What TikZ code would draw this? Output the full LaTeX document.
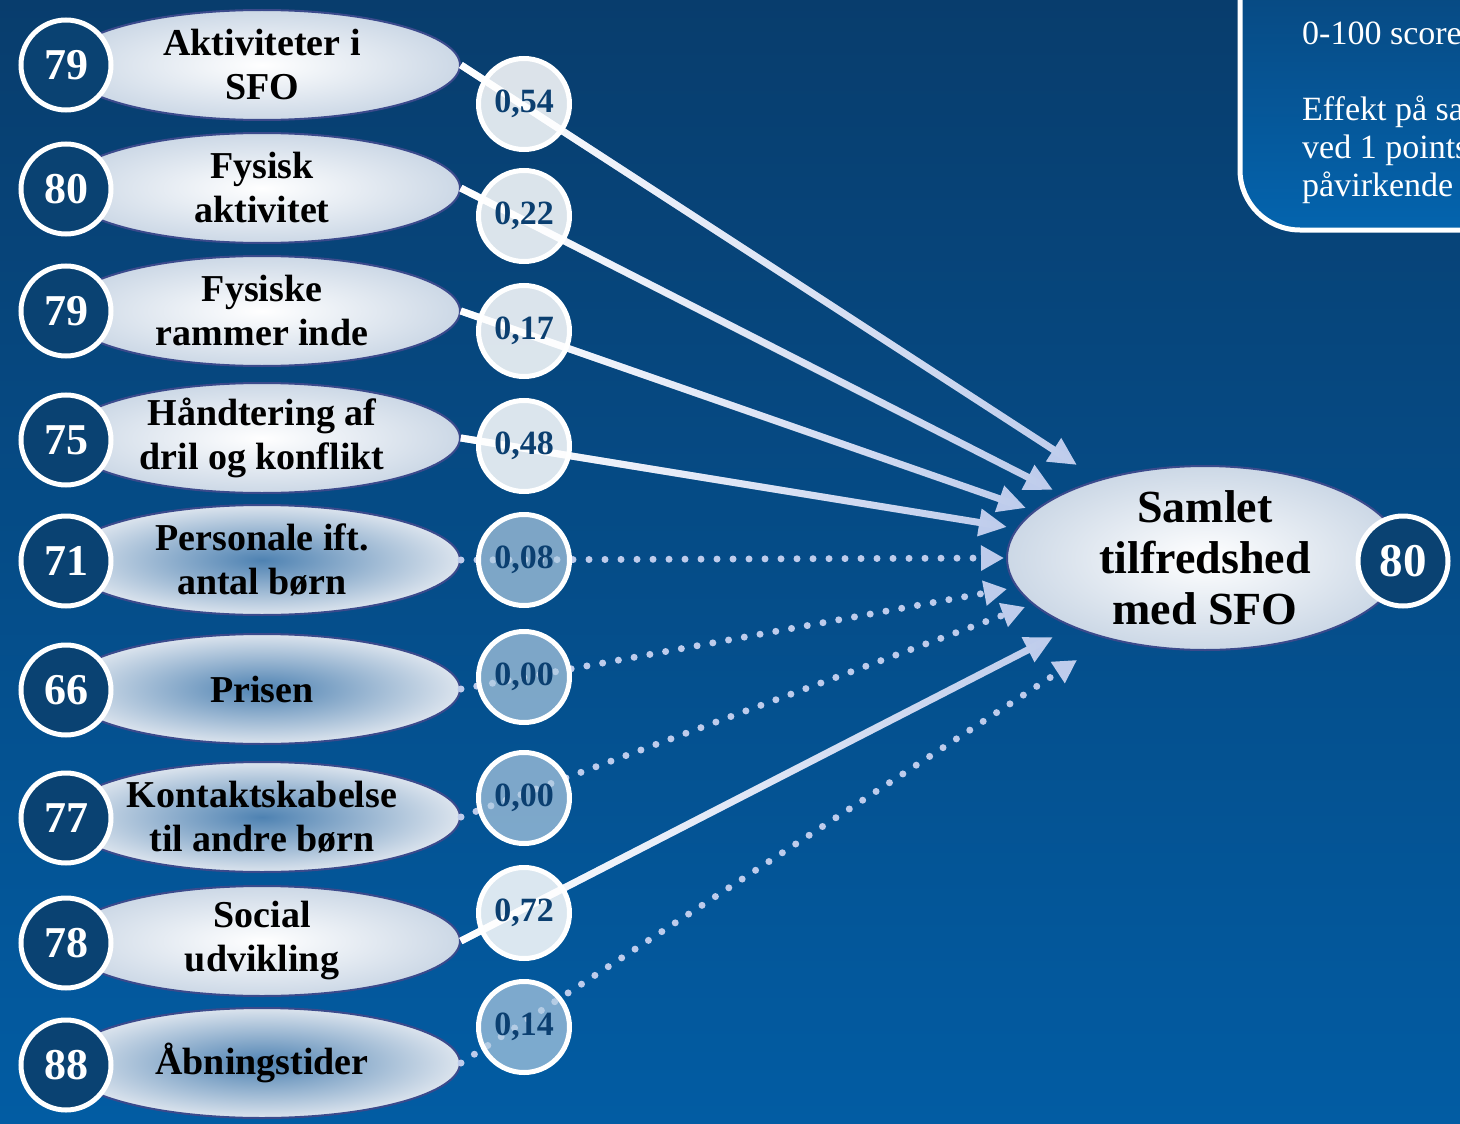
\documentclass[tikz,border=0pt]{standalone}
\usepackage{fontspec}
\setmainfont{Liberation Serif}
\usetikzlibrary{shapes, arrows.meta, fadings}
\definecolor{bgtop}{RGB}{8,61,109}
\definecolor{bgbot}{RGB}{2,92,163}
\definecolor{scorebg}{RGB}{10,66,114}
\definecolor{rim}{RGB}{59,74,140}
\definecolor{pale}{RGB}{204,216,230}
\definecolor{deep}{RGB}{78,130,178}
\definecolor{coefmuted}{RGB}{177,204,226}
\definecolor{coeftext}{RGB}{11,63,112}
\definecolor{arrowcol}{RGB}{190,204,236}
\definecolor{boxtop}{RGB}{8,66,118}
\definecolor{boxbot}{RGB}{4,100,174}

\begin{document}
\begin{tikzpicture}[x=1pt, y=-1pt,
		score/.style={circle, draw=white, line width=5pt, fill=scorebg, text=white, minimum size=90pt, inner sep=0pt, font=\bfseries\fontsize{44}{44}\selectfont},
		driver/.style={ellipse, draw=rim, line width=2pt, inner color=white, outer color=pale, minimum width=396pt, minimum height=110pt, inner xsep=-30pt, inner ysep=-8pt, align=center, font=\bfseries\fontsize{38}{44}\selectfont},
		weak/.style={driver, inner color=deep, outer color=pale!70!white},
		coef/.style={circle, draw=white, line width=5pt, fill=white, fill opacity=0.86, text opacity=1, text=coeftext, minimum size=91pt, inner sep=0pt, font=\bfseries\fontsize{34}{34}\selectfont},
		weakcoef/.style={coef, fill=coefmuted, fill opacity=0.7},
		link/.style={arrowcol, line width=7pt, -{Triangle[length=28pt, width=26pt]}, postaction={draw=white, -, path fading=east}},
		weaklink/.style={arrowcol, line width=7pt, line cap=round, dash pattern=on 0pt off 16pt, -{Triangle[length=23pt, width=24pt]}}]
		\useasboundingbox (0,0) rectangle (1460,1124);
		\clip (0,0) rectangle (1460,1124);
		\fill [top color=bgtop, bottom color=bgbot] (0,0) rectangle (1460,1124);
		\draw [white, line width=5pt, rounded corners=60pt, top color=boxtop, bottom color=boxbot] (1240,-80) rectangle (1540,230);
		\node (info) [anchor=north west, inner sep=0pt, align=left, text=white, font=\fontsize{34}{38}\selectfont] at (1302,22) {0-100 score\\[38pt]Effekt på samlet\\ved 1 points\\påvirkende};

		\node (akt)   [driver] at (262,65)   {Aktiviteter i\\SFO};
		\node (fys)   [driver] at (262,188)  {Fysisk\\aktivitet};
		\node (ramme) [driver] at (262,311)  {Fysiske\\rammer inde};
		\node (konf)  [driver] at (262,438)  {Håndtering af\\dril og konflikt};
		\node (pers)  [weak]   at (262,560)  {Personale ift.\\antal børn};
		\node (pris)  [weak]   at (262,689)  {Prisen};
		\node (kont)  [weak]   at (262,817)  {Kontaktskabelse\\til andre børn};
		\node (soc)   [driver] at (262,941)  {Social\\udvikling};
		\node (aabn)  [weak]   at (262,1063) {Åbningstider};

		\node (s-akt)   [score] at (66,65)   {79};
		\node (s-fys)   [score] at (66,189)  {80};
		\node (s-ramme) [score] at (66,311)  {79};
		\node (s-konf)  [score] at (66,440)  {75};
		\node (s-pers)  [score] at (66,561)  {71};
		\node (s-pris)  [score] at (66,690)  {66};
		\node (s-kont)  [score] at (66,818)  {77};
		\node (s-soc)   [score] at (66,943)  {78};
		\node (s-aabn)  [score] at (66,1065) {88};

		\coordinate (t-akt)   at (1077,465);
		\coordinate (t-fys)   at (1053,490);
		\coordinate (t-ramme) at (1026,508);
		\coordinate (t-konf)  at (1007,527);
		\coordinate (t-pers)  at (1004,558);
		\coordinate (t-pris)  at (1007,589);
		\coordinate (t-kont)  at (1025,607);
		\coordinate (t-soc)   at (1053,637);
		\coordinate (t-aabn)  at (1077,660);

		\draw [link]     (akt.east)   -- (t-akt);
		\draw [link]     (fys.east)   -- (t-fys);
		\draw [link]     (ramme.east) -- (t-ramme);
		\draw [link]     (konf.east)  -- (t-konf);
		\draw [weaklink] (pers.east)  -- (t-pers);
		\draw [weaklink] (pris.east)  -- (t-pris);
		\draw [weaklink] (kont.east)  -- (t-kont);
		\draw [link]     (soc.east)   -- (t-soc);
		\draw [weaklink] (aabn.east)  -- (t-aabn);

		\node (c-akt)   [coef]     at (524,104)  {0,54};
		\node (c-fys)   [coef]     at (524,216)  {0,22};
		\node (c-ramme) [coef]     at (524,331)  {0,17};
		\node (c-konf)  [coef]     at (524,446)  {0,48};
		\node (c-pers)  [weakcoef] at (524,560)  {0,08};
		\node (c-pris)  [weakcoef] at (524,677)  {0,00};
		\node (c-kont)  [weakcoef] at (524,798)  {0,00};
		\node (c-soc)   [coef]     at (524,913)  {0,72};
		\node (c-aabn)  [weakcoef] at (524,1027) {0,14};

		\node (samlet) [driver, minimum height=184pt, font=\bfseries\fontsize{46}{51}\selectfont] at (1205,558) {Samlet\\tilfredshed\\med SFO};
		\node (total)  [score, font=\bfseries\fontsize{47}{47}\selectfont] at (1403,561) {80};
\end{tikzpicture}
\end{document}
